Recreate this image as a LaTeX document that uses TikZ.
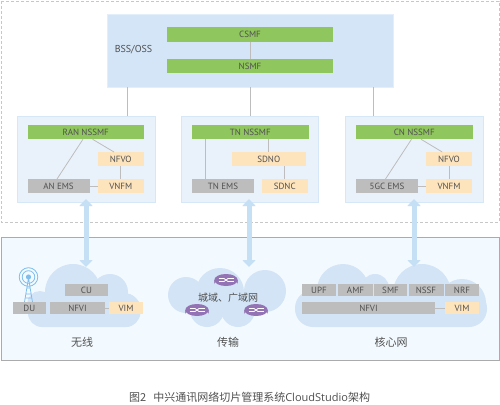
\documentclass[tikz,border=0pt]{standalone}
\usepackage{fontspec}
\setmainfont{PT Sans}
\newfontfamily\cjk{Noto Sans CJK SC}
\newfontfamily\capfont{Open Sans}
\usetikzlibrary{arrows.meta,calc}
\definecolor{cgreen}{HTML}{8FC65E}
\definecolor{corange}{HTML}{FDE4BD}
\definecolor{cgray}{HTML}{BDBDBD}
\definecolor{cpanel}{HTML}{E9F2FB}
\definecolor{cpanelb}{HTML}{D6E8F7}
\definecolor{cbss}{HTML}{D4E5F7}
\definecolor{cbssb}{HTML}{E2EFFA}
\definecolor{ctext}{HTML}{505050}
\definecolor{ccloud}{HTML}{D3E4F6}
\definecolor{carrow}{HTML}{C5DFF5}
\definecolor{cground}{HTML}{F3FAFF}
\definecolor{cpurple}{HTML}{7F5F9F}
\definecolor{cpurplet}{HTML}{9373B3}
\definecolor{ctower}{HTML}{7FBDEB}
\tikzset{
  x=1pt,y=-1pt,
  w/.style={minimum width=#1pt},
  txt/.style={text=ctext,font=\fontsize{9}{10}\selectfont,inner sep=0pt,outer sep=0pt},
  boxbase/.style={txt,minimum height=#1,anchor=center},
  greenbox/.style={boxbase=14.5pt,fill=cgreen},
  orangebox/.style={boxbase=14pt,fill=corange},
  graybox/.style={boxbase=14pt,fill=cgray},
  netbox/.style={boxbase=12pt,fill=cgray},
  netorange/.style={boxbase=12pt,fill=corange},
  panel/.style={fill=cpanel,draw=cpanelb,line width=0.8pt,inner sep=0pt,outer sep=0pt,anchor=north west},
  link/.style={draw=cgray,line width=0.8pt},
  thick link/.style={draw=cgray,line width=1pt},
  bigarrow/.style={draw=carrow,line width=5pt,{Triangle[width=13pt,length=7pt]}-{Triangle[width=13pt,length=7pt]}},
  cjklabel/.style={text=ctext,font=\cjk\fontsize{11}{12}\selectfont,inner sep=0pt},
  cloudfill/.style={fill=ccloud},
  router/.pic={
    \fill[cpurple] (-11.7,-2) -- (-11.7,2) arc[x radius=11.7,y radius=6,start angle=180,end angle=360] -- (11.7,-2) -- cycle;
    \fill[cpurplet] (0,-2) ellipse[x radius=11.7,y radius=6];
    \draw[white,line width=0.8pt] (-7.5,-3.5) -- (-2,-3.5) (2,-3.5) -- (7.5,-3.5) (-7.5,-0.5) -- (-2,-0.5) (2,-0.5) -- (7.5,-0.5);
    \draw[white,line width=0.8pt] (-2,-3.5) -- (2,-0.5) (-2,-0.5) -- (2,-3.5);
  }
}
\begin{document}
\begin{tikzpicture}
\useasboundingbox (0,0) rectangle (500,404);
\fill[white] (0,0) rectangle (500,404);
% outer frames
\draw[cgray!85,line width=0.9pt,densely dashed] (1,1) rectangle (499,222);
\draw[fill=cground,draw=black!33,line width=0.8pt] (1,237.5) rectangle (499,360);

% BSS
\node[panel,fill=cbss,draw=cbssb,minimum width=286pt,minimum height=73pt] (bss) at (107,14) {};
\node[greenbox,w=166] (csmf) at (250,34.5) {CSMF};
\node[greenbox,w=166] (nsmf) at (250,66) {NSMF};
\node[txt,font=\fontsize{10}{11}\selectfont] (bsslabel) at (133.5,50) {BSS/OSS};
\draw[link] (csmf) -- (nsmf);

% panels
\node[panel,minimum width=138pt,minimum height=86pt] (ranp) at (17,116) {};
\node[panel,minimum width=137.5pt,minimum height=86pt] (tnp) at (181,116) {};
\node[panel,minimum width=138pt,minimum height=86pt] (cnp) at (345.3,116) {};
\draw[thick link] (bss.south -| 127,0) -- (ranp.north -| 127,0);
\draw[thick link] (bss.south) -- (tnp.north -| 250,0);
\draw[thick link] (bss.south -| 373,0) -- (cnp.north -| 373,0);

% RAN
\node[greenbox,w=116.5] (ran) at (85.75,132) {RAN NSSMF};
\node[orangebox,w=46.5] (nfvoa) at (120.75,159) {NFVO};
\node[orangebox,w=46.5] (vnfma) at (120.75,186) {VNFM};
\node[graybox,w=62] (anems) at (58.5,186) {AN EMS};
\draw[link] ($(ran.south west)+(55.5,0)$) -- ($(anems.north west)+(29.5,0)$);
\draw[link] ($(ran.south west)+(65,0)$) -- ($(nfvoa.north west)+(16.5,0)$);
\draw[thick link] (nfvoa) -- (vnfma);
\draw[thick link] (anems) -- (vnfma);

% TN
\node[greenbox,w=116.5] (tn) at (250.25,132) {TN NSSMF};
\node[orangebox,w=74.5] (sdno) at (268.75,159) {SDNO};
\node[orangebox,w=46.5] (sdnc) at (284.75,186) {SDNC};
\node[graybox,w=62] (tnems) at (223,186) {TN EMS};
\draw[thick link] (tnems.north -| 205,0) -- (tn.south -| 205,0);
\draw[thick link] (tn.south -| sdno.north) -- (sdno.north);
\draw[thick link] (sdno.south -| sdnc.north) -- (sdnc.north);

% CN
\node[greenbox,w=116.5] (cn) at (414.25,132) {CN NSSMF};
\node[orangebox,w=46.5] (nfvoc) at (449,159) {NFVO};
\node[orangebox,w=46.5] (vnfmc) at (449,186) {VNFM};
\node[graybox,w=62] (gems) at (387,186) {5GC EMS};
\draw[link] ($(cn.south west)+(55.5,0)$) -- ($(gems.north west)+(29.5,0)$);
\draw[link] ($(cn.south west)+(65,0)$) -- ($(nfvoc.north west)+(16.5,0)$);
\draw[thick link] (nfvoc) -- (vnfmc);
\draw[thick link] (gems) -- (vnfmc);

% clouds
\begin{scope}[cloudfill]
\fill (73,292) circle[radius=28];
\fill (110,292) circle[radius=18];
\fill[rounded corners=14pt] (28,298) rectangle (140,327);
\fill (40,304) circle[radius=13];
\fill (124,310) circle[radius=17];

\fill (186,295) circle[radius=18];
\fill (220,292) circle[radius=24];
\fill (265,291) circle[radius=21];
\fill (207,310) circle[radius=17];
\fill (238,310) circle[radius=17];

\fill (343,290) circle[radius=26];
\fill (375,288) circle[radius=14];
\fill (422,293) circle[radius=29];
\fill[rounded corners=18pt] (295,290) rectangle (487,327);
\fill (462,303) circle[radius=24];
\end{scope}

% arrows
\coordinate (a1b) at (86,267);
\coordinate (a2b) at (249,267);
\coordinate (a3b) at (414,267);
\draw[bigarrow] ($(ranp.south -| 86,0)+(0,-3)$) -- (a1b);
\draw[bigarrow] ($(tnp.south -| 249,0)+(0,-3)$) -- (a2b);
\draw[bigarrow] ($(cnp.south -| 414,0)+(0,-3)$) -- (a3b);

% radio tower
\draw[ctower,line width=0.8pt] (28.5,277) circle[radius=9.3] (28.5,277) circle[radius=6.3];
\fill[ctower] (28.5,277) circle[radius=2.6];
\draw[ctower,line width=0.8pt] (28.5,278) -- (24.5,302) (28.5,278) -- (32.5,302)
  (27,288) -- (30,288) (26,294) -- (31,294) (25.5,298) -- (31.5,298);

% wireless
\node[netbox,w=43] (cu) at (86.5,290) {CU};
\node[netbox,w=33.5] (du) at (29.25,308) {DU};
\node[netbox,w=55] (nfvia) at (77.5,308) {NFVI};
\node[netorange,w=34] (vima) at (126,308) {VIM};
\draw[thick link] (nfvia) -- (vima);

% core
\node[netbox,w=34] (upf) at (319,290) {UPF};
\node[netbox,w=35] (amf) at (355.5,290) {AMF};
\node[netbox,w=33.5] (smf) at (390.5,290) {SMF};
\node[netbox,w=35] (nssf) at (426,290) {NSSF};
\node[netbox,w=34] (nrf) at (462,290) {NRF};
\node[netbox,w=133] (nfvic) at (368.5,308) {NFVI};
\node[netorange,w=34] (vimc) at (462,308) {VIM};
\draw[thick link] (nfvic) -- (vimc);

% routers
\pic at (226,282) {router};
\pic at (197,312) {router};
\pic at (256,312) {router};
\node[cjklabel,font=\cjk\fontsize{10}{11}\selectfont] (wan) at (228,297.5) {城域、广域网};

% labels
\node[cjklabel] (l1) at (82,342) {无线};
\node[cjklabel] (l2) at (228,342) {传输};
\node[cjklabel] (l3) at (391,342) {核心网};
\node[cjklabel,anchor=west] (cap) at (129,397.5) {图2\hspace{7pt}中兴通讯网络切片管理系统{\capfont\fontsize{11}{12}\selectfont CloudStudio}架构};
\end{tikzpicture}
\end{document}
